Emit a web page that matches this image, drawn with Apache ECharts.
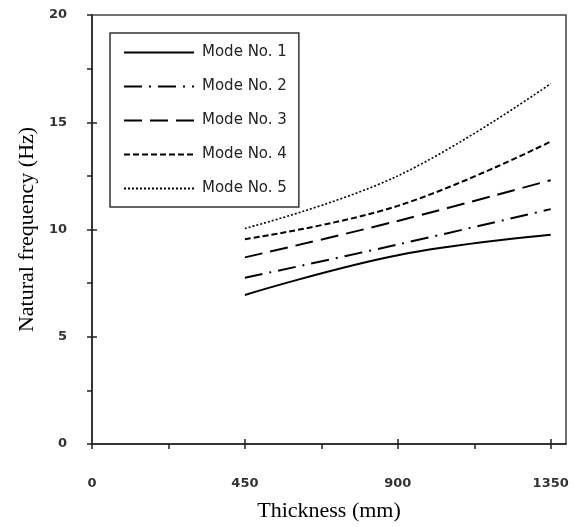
<!DOCTYPE html>
<html>
<head>
<meta charset="utf-8">
<script src="https://cdn.jsdelivr.net/npm/echarts@6/dist/echarts.min.js"></script>
<style>
html,body{margin:0;padding:0;background:#fff;}
#chart{width:576px;height:527px;}
</style>
</head>
<body>
<div id="chart"></div>
<script>
var thickness = [450, 900, 1350];
var mode1 = [6.95, 8.8, 9.75];
var mode2 = [7.75, 9.3, 10.95];
var mode3 = [8.7, 10.4, 12.3];
var mode4 = [9.55, 11.1, 14.1];
var mode5 = [10.05, 12.5, 16.8];
var seriesNames = ['Mode No. 1', 'Mode No. 2', 'Mode No. 3', 'Mode No. 4', 'Mode No. 5'];
var xTickLabels = [0, 450, 900, 1350];
var yTickLabels = [0, 5, 10, 15, 20];

var allValues = [mode1, mode2, mode3, mode4, mode5];
var dashes = ['solid', [18, 7, 2, 7], [18, 8], [6, 3], [2, 2]];
var widths = [2, 2, 2, 2, 1.6];

var chart = echarts.init(document.getElementById('chart'), null, {renderer: 'canvas'});

var series = allValues.map(function (vals, i) {
  return {
    name: seriesNames[i],
    type: 'line',
    xAxisIndex: 0,
    yAxisIndex: 0,
    smooth: 0.4,
    symbol: 'none',
    showSymbol: false,
    data: thickness.map(function (t, j) { return [t, vals[j]]; }),
    lineStyle: {color: '#000', width: widths[i], type: dashes[i], cap: 'butt'},
    itemStyle: {color: '#000'}
  };
});

var labelFont = {fontFamily: 'DejaVu Sans', fontSize: 13, fontWeight: 'bold', color: '#333'};
var titleFont = {fontFamily: 'Liberation Serif', fontSize: 22, color: '#000'};
function plain(v) { return String(v); }

var option = {
  backgroundColor: '#fff',
  animation: false,
  grid: {
    left: 92, right: 10, top: 15, bottom: 74,
    show: true, borderColor: '#444', borderWidth: 1.5, backgroundColor: 'transparent'
  },
  legend: {
    orient: 'vertical',
    left: 110, top: 33,
    padding: [12, 12, 11, 13],
    itemWidth: 70, itemHeight: 14, itemGap: 19,
    borderColor: '#333', borderWidth: 1.5,
    backgroundColor: '#fff',
    data: seriesNames,
    itemStyle: {opacity: 0},
    textStyle: {fontFamily: 'DejaVu Sans', fontSize: 15, color: '#222', width: 103, padding: [0, 0, 0, 3]}
  },
  xAxis: [{
    type: 'value', min: 0, max: 1395,
    name: 'Thickness (mm)', nameLocation: 'middle', nameGap: 56,
    nameTextStyle: titleFont,
    axisLine: {show: true, onZero: false, lineStyle: {color: '#222', width: 1.5}},
    axisTick: {show: true, inside: false, length: 5, lineStyle: {color: '#222', width: 1.5},
      customValues: [0, 225, 450, 675, 900, 1125, 1350]},
    axisLabel: Object.assign({customValues: xTickLabels, margin: 33, formatter: plain}, labelFont),
    splitLine: {show: false}
  }, {
    type: 'value', min: 0, max: 1395, position: 'bottom',
    axisLine: {show: false},
    axisTick: {show: true, inside: true, length: 5, lineStyle: {color: '#222', width: 1.5},
      customValues: [450, 900, 1350]},
    axisLabel: {show: false},
    splitLine: {show: false}
  }],
  yAxis: [{
    type: 'value', min: 0, max: 20,
    name: 'Natural frequency (Hz)', nameLocation: 'middle', nameGap: 52,
    nameTextStyle: titleFont,
    axisLine: {show: true, onZero: false, lineStyle: {color: '#222', width: 1.5}},
    axisTick: {show: true, inside: false, length: 5, lineStyle: {color: '#222', width: 1.5},
      customValues: [0, 2.5, 5, 7.5, 10, 12.5, 15, 17.5, 20]},
    axisLabel: Object.assign({customValues: yTickLabels, margin: 25, formatter: plain}, labelFont),
    splitLine: {show: false}
  }, {
    type: 'value', min: 0, max: 20, position: 'left',
    axisLine: {show: false},
    axisTick: {show: true, inside: true, length: 5, lineStyle: {color: '#222', width: 1.5},
      customValues: [5, 10, 15]},
    axisLabel: {show: false},
    splitLine: {show: false}
  }],
  series: series
};
chart.setOption(option);
</script>
</body>
</html>
